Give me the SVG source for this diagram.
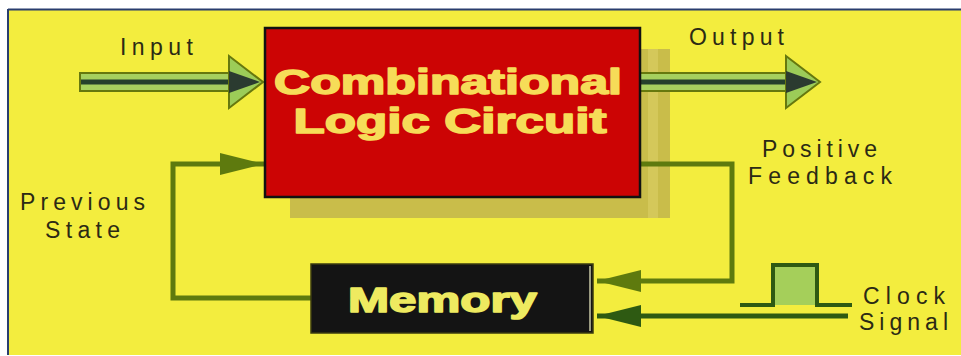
<svg xmlns="http://www.w3.org/2000/svg" xmlns:xlink="http://www.w3.org/1999/xlink" width="961" height="356" viewBox="0 0 961 356">
<style>
.lbl{font-family:"Liberation Sans",Arial,sans-serif;font-size:23px;fill:#2b2a14}
.big{font-family:"Liberation Sans",Arial,sans-serif;font-weight:bold;font-size:35px;stroke-width:1.6;stroke-linejoin:round}
.shaft{fill:#a6d05e;stroke:#66780e;stroke-width:2}
.core{fill:#24402c}
.olive{fill:none;stroke:#5e7a0e;stroke-width:5}
.dark{fill:none;stroke:#2e5a12;stroke-width:5}
</style>
<defs>
<g id="fathead">
<polygon points="0,-26 34,0 0,26" fill="#9ccc58" stroke="#66780e" stroke-width="2"/>
<polygon points="0,-11 31,0 0,11" fill="#2b3b30"/>
</g>
<marker id="ahO" markerUnits="userSpaceOnUse" markerWidth="46" markerHeight="24" refX="44" refY="11" orient="auto"><path d="M0,0 L44,11 L0,22 z" fill="#5e7a0e"/></marker>
<marker id="ahD" markerUnits="userSpaceOnUse" markerWidth="46" markerHeight="24" refX="44" refY="11" orient="auto"><path d="M0,0 L44,11 L0,22 z" fill="#2e5a12"/></marker>
</defs>
<rect width="961" height="356" fill="#ffffff"/>
<rect x="8" y="10" width="953" height="345" fill="#f3ed3e"/>
<line x1="8" y1="9.5" x2="961" y2="9.5" stroke="#2a3e6e" stroke-width="2"/>
<line x1="8" y1="9" x2="8" y2="355" stroke="#2a3e6e" stroke-width="2"/>

<g id="shadow"><rect x="290" y="49" width="380" height="169" fill="#c9bd4a"/><rect x="648" y="49" width="10" height="169" fill="#d4c85a"/></g>

<g id="connectors">
<path class="olive" d="M311,298 H173 V164 H264" marker-end="url(#ahO)"/>
<path class="olive" d="M640,164 H732 V281 H597" marker-end="url(#ahO)"/>
<path class="dark" d="M848,316 H597" marker-end="url(#ahD)"/>
<g id="input-arrow">
<rect class="shaft" x="80" y="73" width="152" height="18"/>
<rect class="core" x="81" y="79.5" width="150" height="5"/>
<use xlink:href="#fathead" href="#fathead" transform="translate(229,82)"/>
</g>
<g id="output-arrow">
<rect class="shaft" x="640" y="73" width="148" height="18"/>
<rect class="core" x="641" y="79.5" width="146" height="5"/>
<use xlink:href="#fathead" href="#fathead" transform="translate(786,82)"/>
</g>
<g id="clock-pulse">
<rect x="773" y="265" width="44" height="40" fill="#a5cf5a"/>
<path d="M740,305 H773 V265 H817 V305 H852" fill="none" stroke="#2e5a12" stroke-width="4"/>
</g>
</g>

<g id="combinational">
<rect x="265" y="28" width="375" height="169" fill="#cc0404" stroke="#111" stroke-width="2.5"/>
<text class="big" x="448" y="94" text-anchor="middle" fill="#f6dc58" stroke="#f6dc58" textLength="348" lengthAdjust="spacingAndGlyphs">Combinational</text>
<text class="big" x="450" y="133" text-anchor="middle" fill="#f6dc58" stroke="#f6dc58" textLength="313" lengthAdjust="spacingAndGlyphs">Logic Circuit</text>
</g>

<g id="memory">
<rect x="311" y="264" width="282" height="69" fill="#141414" stroke="#3a3a10" stroke-width="1.5"/>
<line x1="590" y1="266" x2="590" y2="331" stroke="#9a9a80" stroke-width="2"/>
<text class="big" x="442.5" y="312" text-anchor="middle" fill="#eeea60" stroke="#eeea60" textLength="189" lengthAdjust="spacingAndGlyphs">Memory</text>
</g>

<g id="labels">
<text class="lbl" x="120" y="55" textLength="73" lengthAdjust="spacing">Input</text>
<text class="lbl" x="689" y="45" textLength="95" lengthAdjust="spacing">Output</text>
<text class="lbl" x="762" y="157" textLength="115" lengthAdjust="spacing">Positive</text>
<text class="lbl" x="748" y="184" textLength="144" lengthAdjust="spacing">Feedback</text>
<text class="lbl" x="20" y="210" textLength="125" lengthAdjust="spacing">Previous</text>
<text class="lbl" x="45" y="238" textLength="75" lengthAdjust="spacing">State</text>
<text class="lbl" x="863" y="304" textLength="82" lengthAdjust="spacing">Clock</text>
<text class="lbl" x="859" y="330" textLength="89" lengthAdjust="spacing">Signal</text>
</g>
</svg>
